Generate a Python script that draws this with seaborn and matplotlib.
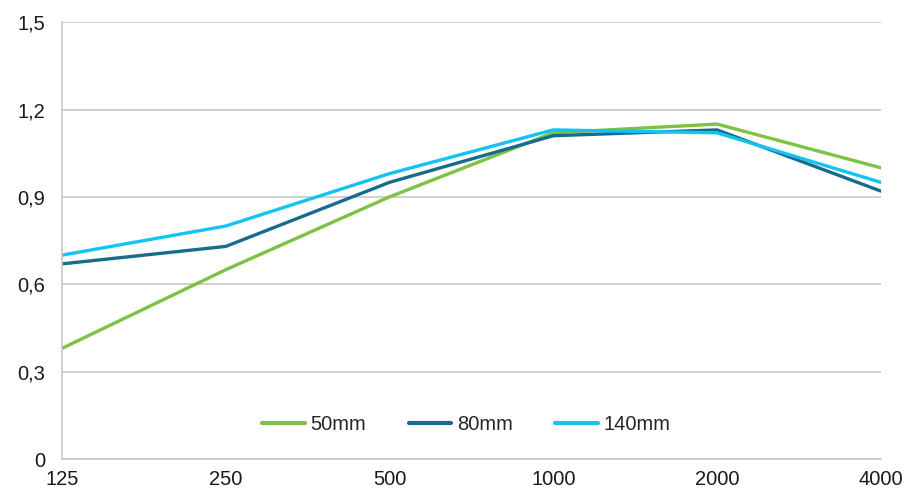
import matplotlib
matplotlib.use("Agg")
import matplotlib.pyplot as plt
import seaborn as sns
import pandas as pd

frequencies = ["125", "250", "500", "1000", "2000", "4000"]
s50 = [0.38, 0.65, 0.90, 1.12, 1.15, 1.00]
s80 = [0.67, 0.73, 0.95, 1.11, 1.13, 0.92]
s140 = [0.70, 0.80, 0.98, 1.13, 1.12, 0.95]
series_names = ["50mm", "80mm", "140mm"]
colors = ["#7dc242", "#176b8c", "#12c3f4"]
y_ticks = [0, 0.3, 0.6, 0.9, 1.2, 1.5]
y_labels = ["0", "0,3", "0,6", "0,9", "1,2", "1,5"]

rows = []
for name, vals in zip(series_names, [s50, s80, s140]):
    for f, v in zip(frequencies, vals):
        rows.append({"freq": f, "value": v, "series": name})
df = pd.DataFrame(rows)

sns.set_style("white")
plt.rcParams['font.family'] = ['Liberation Sans', 'DejaVu Sans']

fig = plt.figure(figsize=(9.09, 4.92), dpi=100)
ax = fig.add_axes([0.0682, 0.067, 0.9008, 0.888])

sns.lineplot(data=df, x="freq", y="value", hue="series", hue_order=series_names,
             palette=colors, linewidth=2.4, ax=ax, sort=False)

ax.set_ylim(0, 1.5)
ax.set_xlim(0, len(frequencies) - 1)
ax.set_yticks(y_ticks)
ax.set_yticklabels(y_labels)
ax.set_xlabel("")
ax.set_ylabel("")
ax.yaxis.grid(True, color="#c8c8c8", linewidth=1.2)
ax.xaxis.grid(False)
for s in ["top", "right"]:
    ax.spines[s].set_visible(False)
for s in ["left", "bottom"]:
    ax.spines[s].set_color("#c8c8c8")
    ax.spines[s].set_linewidth(1.2)
ax.tick_params(axis="both", which="both", length=5, width=1.2, color="#c8c8c8",
               labelsize=14.5, labelcolor="#1a1a1a", pad=3)
ax.tick_params(axis="y", direction="out", pad=7)

leg = ax.legend(loc="center", bbox_to_anchor=(0.494, 0.08), ncol=3, frameon=False,
                fontsize=14.5, handlelength=2.1, columnspacing=2.1, handletextpad=0.3)
for line in leg.get_lines():
    line.set_linewidth(3)

fig.savefig("out.png", dpi=100)
